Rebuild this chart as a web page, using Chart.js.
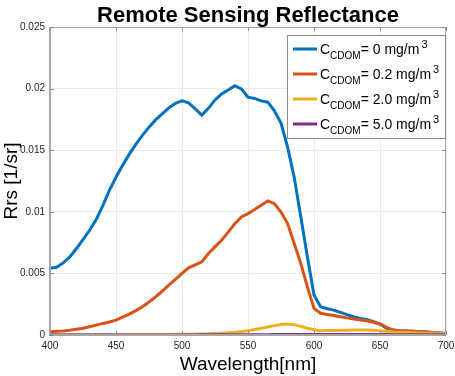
<!DOCTYPE html>
<html>
<head>
<meta charset="utf-8">
<script src="https://cdn.jsdelivr.net/npm/chart.js@4/dist/chart.umd.min.js"></script>
<style>
html, body { margin: 0; padding: 0; background: #fff; }
#wrap { width: 455px; height: 376px; }
</style>
</head>
<body>
<div id="wrap"><canvas id="rrs"></canvas></div>
<script>
// wavelengths in nm, 5 nm steps
var wavelength = [];
for (var w = 400; w <= 700; w += 5) wavelength.push(w);

var legendLabels = ["0", "0.2", "2.0", "5.0"];
var yTicks = [0, 0.005, 0.01, 0.015, 0.02, 0.025];
var xTicks = [400, 450, 500, 550, 600, 650, 700];

// Rrs values, 1/sr
var rrs0 = [0.00542, 0.0055, 0.00585, 0.00634, 0.00702, 0.00775, 0.0085, 0.00937, 0.0105, 0.01174,
	0.0128, 0.01377, 0.01466, 0.01547, 0.0162, 0.01687, 0.01746, 0.01795, 0.01844, 0.0188,
	0.019, 0.01884, 0.01835, 0.01785, 0.0184, 0.01908, 0.01957, 0.01989, 0.02024, 0.01997,
	0.0193, 0.0192, 0.019, 0.0189, 0.0182, 0.0172, 0.01525, 0.0128, 0.0096, 0.00634,
	0.00324, 0.00229, 0.00213, 0.00202, 0.00184, 0.00165, 0.00148, 0.00135, 0.00127, 0.00108,
	0.00089, 0.00054, 0.0004, 0.00035, 0.00032, 0.0003, 0.00027, 0.00024, 0.0002, 0.00017, 0.00013];
var rrs02 = [0.00027, 0.0003, 0.00033, 0.00038, 0.00046, 0.00055, 0.00067, 0.0008, 0.00094, 0.00106,
	0.00121, 0.00145, 0.0017, 0.00198, 0.00229, 0.00268, 0.0031, 0.00355, 0.00405, 0.00452,
	0.005, 0.00545, 0.0057, 0.00594, 0.00661, 0.00715, 0.00769, 0.00835, 0.00904, 0.00958,
	0.00985, 0.01018, 0.01053, 0.01088, 0.01066, 0.00998, 0.00904, 0.00742, 0.0058, 0.00391,
	0.00216, 0.00176, 0.00167, 0.00158, 0.00148, 0.00139, 0.0013, 0.00122, 0.00116, 0.00103,
	0.00089, 0.00062, 0.0004, 0.00035, 0.00032, 0.0003, 0.00027, 0.00024, 0.0002, 0.00017, 0.00013];
var rrs2 = [0.00002, 0.00002, 0.00002, 0.00002, 0.00002, 0.00002, 0.00003, 0.00003, 0.00003, 0.00003,
	0.00003, 0.00004, 0.00004, 0.00004, 0.00004, 0.00005, 0.00005, 0.00005, 0.00005, 0.00006,
	0.00006, 0.00007, 0.00008, 0.00009, 0.0001, 0.00013, 0.00015, 0.00018, 0.00022, 0.00028,
	0.00035, 0.00044, 0.00054, 0.00065, 0.00076, 0.00086, 0.00089, 0.00084, 0.0007, 0.00055,
	0.00042, 0.00035, 0.00036, 0.00037, 0.00038, 0.00039, 0.0004, 0.0004, 0.0004, 0.00038,
	0.00035, 0.0003, 0.00024, 0.00022, 0.0002, 0.00018, 0.00016, 0.00015, 0.00014, 0.00013, 0.00012];
var rrs5 = [0, 0, 0, 0, 0, 0, 0, 0, 0, 0,
	0, 0, 0, 0, 0.00001, 0.00001, 0.00001, 0.00001, 0.00001, 0.00001,
	0.00001, 0.00001, 0.00001, 0.00002, 0.00002, 0.00002, 0.00002, 0.00002, 0.00002, 0.00003,
	0.00003, 0.00003, 0.00003, 0.00003, 0.00004, 0.00004, 0.00004, 0.00004, 0.00004, 0.00004,
	0.00004, 0.00004, 0.00004, 0.00004, 0.00004, 0.00004, 0.00004, 0.00004, 0.00004, 0.00004,
	0.00004, 0.00004, 0.00003, 0.00003, 0.00003, 0.00003, 0.00003, 0.00003, 0.00003, 0.00003, 0.00003];

var colors = ["#0072BD", "#D95319", "#EDB120", "#7E2F8E"];
var series = [rrs0, rrs02, rrs2, rrs5];

function pts(arr) {
	return arr.map(function(v, i) { return {x: wavelength[i], y: v}; });
}

var datasets = series.map(function(s, i) {
	return {
		label: legendLabels[i],
		data: pts(s),
		borderColor: colors[i],
		backgroundColor: colors[i],
		borderWidth: 3,
		pointRadius: 0,
		fill: false,
		tension: 0
	};
});
// draw the first series last so blue sits on top like the figure order
datasets.reverse();

var FONT = "'Liberation Sans', Arial, sans-serif";

// frame, inward ticks, title and the MATLAB style legend
var matlabBits = {
	id: "matlabBits",
	afterDraw: function(chart) {
		var ctx = chart.ctx, a = chart.chartArea;
		var xs = chart.scales.x, ys = chart.scales.y;
		ctx.save();
		// axes box
		ctx.strokeStyle = "#a6a6a6";
		ctx.lineWidth = 1;
		ctx.strokeRect(a.left + 0.5, a.top + 0.5, a.right - a.left - 1, a.bottom - a.top - 1);
		ctx.lineWidth = 2;
		ctx.beginPath();
		ctx.moveTo(a.left, a.top); ctx.lineTo(a.left, a.bottom); ctx.lineTo(a.right, a.bottom);
		ctx.stroke();
		ctx.lineWidth = 1;
		ctx.strokeStyle = "#8c8c8c";
		ctx.beginPath();
		xTicks.forEach(function(t) {
			var px = Math.round(xs.getPixelForValue(t)) + 0.5;
			ctx.moveTo(px, a.bottom); ctx.lineTo(px, a.bottom - 4);
			ctx.moveTo(px, a.top); ctx.lineTo(px, a.top + 4);
		});
		yTicks.forEach(function(t) {
			var py = Math.round(ys.getPixelForValue(t)) + 0.5;
			ctx.moveTo(a.left, py); ctx.lineTo(a.left + 4, py);
			ctx.moveTo(a.right, py); ctx.lineTo(a.right - 4, py);
		});
		ctx.stroke();

		// title
		ctx.fillStyle = "#000";
		ctx.font = "bold 22px " + FONT;
		ctx.textAlign = "center";
		ctx.textBaseline = "alphabetic";
		ctx.fillText("Remote Sensing Reflectance", (a.left + a.right) / 2, 22);

		// legend
		var lx = 287, ly = 35, lw = 158, lh = 103;
		ctx.fillStyle = "#fff";
		ctx.fillRect(lx, ly, lw, lh);
		ctx.strokeStyle = "#8c8c8c";
		ctx.lineWidth = 1;
		ctx.strokeRect(lx + 0.5, ly + 0.5, lw, lh);
		var order = chart.data.datasets.slice().reverse();
		order.forEach(function(ds, i) {
			var cy = ly + 14 + i * 25;
			ctx.strokeStyle = ds.borderColor;
			ctx.lineWidth = 3;
			ctx.beginPath();
			ctx.moveTo(lx + 6, cy); ctx.lineTo(lx + 30, cy);
			ctx.stroke();
			ctx.fillStyle = "#000";
			ctx.textAlign = "left";
			ctx.textBaseline = "alphabetic";
			var tx = lx + 33;
			ctx.font = "14px " + FONT;
			ctx.fillText("C", tx, cy + 5);
			tx += ctx.measureText("C").width;
			ctx.font = "10px " + FONT;
			ctx.fillText("CDOM", tx, cy + 10);
			tx += ctx.measureText("CDOM").width;
			ctx.font = "14px " + FONT;
			var s = "= " + ds.label + " mg/m";
			ctx.fillText(s, tx, cy + 5);
			tx += ctx.measureText(s).width + 2;
			ctx.font = "11px " + FONT;
			ctx.fillText("3", tx, cy - 1);
		});
		ctx.restore();
	}
};

var ctx = document.getElementById("rrs").getContext("2d");
var rrsChart = new Chart(ctx, {
	type: "line",
	data: { datasets: datasets },
	options: {
		responsive: true,
		maintainAspectRatio: false,
		animation: false,
		events: [],
		layout: { padding: { top: 27, right: 0, left: 0, bottom: 0 } },
		plugins: {
			legend: { display: false },
			title: { display: false },
			tooltip: { enabled: false }
		},
		scales: {
			x: {
				type: "linear",
				min: 400,
				max: 700,
				afterFit: function(s) { s.height = 41; s.paddingRight = 9; },
				afterBuildTicks: function(s) { s.ticks = xTicks.map(function(v) { return {value: v}; }); },
				grid: { color: "#ebebeb", drawTicks: false },
				border: { display: false },
				ticks: { color: "#262626", font: { family: FONT, size: 10 }, padding: 5, maxRotation: 0 },
				title: { display: true, text: "Wavelength[nm]", color: "#000", font: { family: FONT, size: 19 }, padding: { top: 0, bottom: 0 } }
			},
			y: {
				min: 0,
				max: 0.025,
				afterFit: function(s) { s.width = 50; },
				afterBuildTicks: function(s) { s.ticks = yTicks.map(function(v) { return {value: v}; }); },
				grid: { color: "#ebebeb", drawTicks: false },
				border: { display: false },
				ticks: {
					color: "#262626",
					font: { family: FONT, size: 10 },
					padding: 5,
					callback: function(v) { return String(+v.toFixed(3)); }
				},
				title: { display: true, text: "Rrs [1/sr]", color: "#000", font: { family: FONT, size: 19 }, padding: { top: 0, bottom: 0 } }
			}
		}
	},
	plugins: [matlabBits]
});
</script>
</body>
</html>
